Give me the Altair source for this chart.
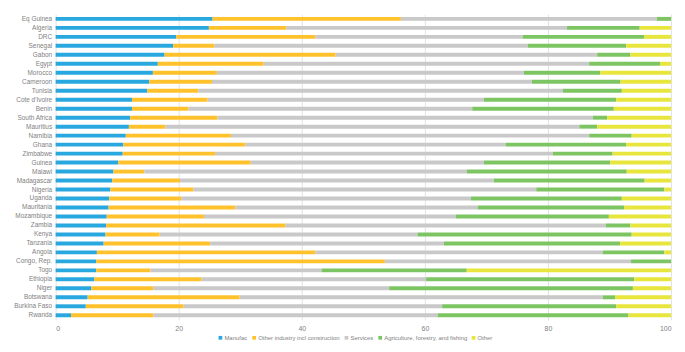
import altair as alt
import pandas as pd

countries = ["Eq Guinea", "Algeria", "DRC", "Senegal", "Gabon", "Egypt", "Morocco", "Cameroon",
             "Tunisia", "Cote d'Ivoire", "Benin", "South Africa", "Mauritius", "Namibia", "Ghana",
             "Zimbabwe", "Guinea", "Malawi", "Madagascar", "Nigeria", "Uganda", "Mauritania",
             "Mozambique", "Zambia", "Kenya", "Tanzania", "Angola", "Congo, Rep.", "Togo",
             "Ethiopia", "Niger", "Botswana", "Burkina Faso", "Rwanda"]

manufac = [25.5, 24.9, 19.6, 19.1, 17.7, 16.6, 15.8, 15.2, 14.9, 12.4, 12.4, 12.1, 11.9, 11.4,
           11.0, 10.9, 10.2, 9.4, 9.2, 8.9, 8.7, 8.6, 8.3, 8.2, 8.1, 7.8, 6.7, 6.6, 6.6, 6.3,
           5.8, 5.2, 4.9, 2.5]
other_industry = [30.6, 12.6, 22.6, 6.7, 27.8, 17.2, 10.4, 10.2, 8.3, 12.3, 9.2, 14.2, 5.9, 17.1,
                  19.8, 15.0, 21.5, 5.0, 11.0, 13.5, 11.7, 20.6, 15.8, 29.1, 8.8, 17.3, 35.5,
                  46.9, 8.8, 17.4, 10.1, 24.7, 15.9, 13.4]
services = [41.6, 45.6, 33.7, 50.9, 42.5, 52.9, 49.9, 52.0, 59.2, 44.9, 46.1, 61.0, 67.3, 58.2,
            42.3, 54.9, 37.9, 52.4, 51.0, 55.7, 47.1, 39.4, 40.9, 52.1, 41.9, 38.0, 46.7, 40.0,
            27.8, 36.5, 38.3, 59.0, 42.0, 46.2]
agriculture = [2.3, 11.8, 19.7, 16.0, 5.4, 11.5, 12.4, 14.4, 9.6, 21.5, 23.0, 2.3, 2.9, 6.9,
               19.6, 9.7, 20.5, 26.0, 24.5, 20.8, 24.5, 23.8, 24.9, 4.0, 34.8, 28.6, 10.0, 6.5,
               23.6, 33.8, 39.6, 2.0, 28.3, 31.0]
other = [0.0, 5.1, 4.4, 7.3, 6.6, 1.8, 11.5, 8.2, 8.0, 8.9, 9.3, 10.4, 12.0, 6.4, 7.3, 9.5, 9.9,
         7.2, 4.3, 1.1, 8.0, 7.6, 10.1, 6.6, 6.4, 8.3, 1.1, 0.0, 33.2, 6.0, 6.2, 9.1, 8.9, 6.9]

sectors = ["Manufac", "Other industry incl construction", "Services",
           "Agriculture, forestry, and fishing", "Other"]
colors = ["#29A8E0", "#FFC22C", "#C9C9C9", "#7DC463", "#E8E53C"]
series = [manufac, other_industry, services, agriculture, other]

rows = []
for si, (name, vals) in enumerate(zip(sectors, series)):
    for c, v in zip(countries, vals):
        rows.append({"country": c, "sector": name, "value": v, "order": si})
df = pd.DataFrame(rows)

font = "Liberation Sans"
W, H = 620, 308
chart = alt.Chart(df).mark_bar().encode(
    x=alt.X("value:Q", stack="zero", scale=alt.Scale(domain=[0, 100], nice=False),
            axis=alt.Axis(values=[0, 20, 40, 60, 80, 100], title=None, domain=False, ticks=False,
                          grid=True, gridColor="#E3E3E3", labelFontSize=7, labelColor="#7F7F7F",
                          labelFont=font, labelPadding=5)),
    y=alt.Y("country:N", sort=countries,
            scale=alt.Scale(paddingInner=0.56, paddingOuter=0.3),
            axis=alt.Axis(title=None, domain=False, ticks=False, labelFontSize=6.5,
                          labelColor="#7F7F7F", labelFont=font, labelPadding=4)),
    color=alt.Color("sector:N", scale=alt.Scale(domain=sectors, range=colors),
                    legend=alt.Legend(title=None, orient="none", direction="horizontal",
                                      legendX=163, legendY=H + 15,
                                      symbolType="square", symbolSize=14, labelFontSize=6,
                                      labelColor="#7F7F7F", labelFont=font, symbolStrokeWidth=0,
                                      columnPadding=3, labelOffset=1, padding=0)),
    order=alt.Order("order:Q"),
).properties(
    width=W, height=H,
).configure_view(stroke=None)

chart.save("out.html", embed_options={"renderer": "svg", "actions": False})
